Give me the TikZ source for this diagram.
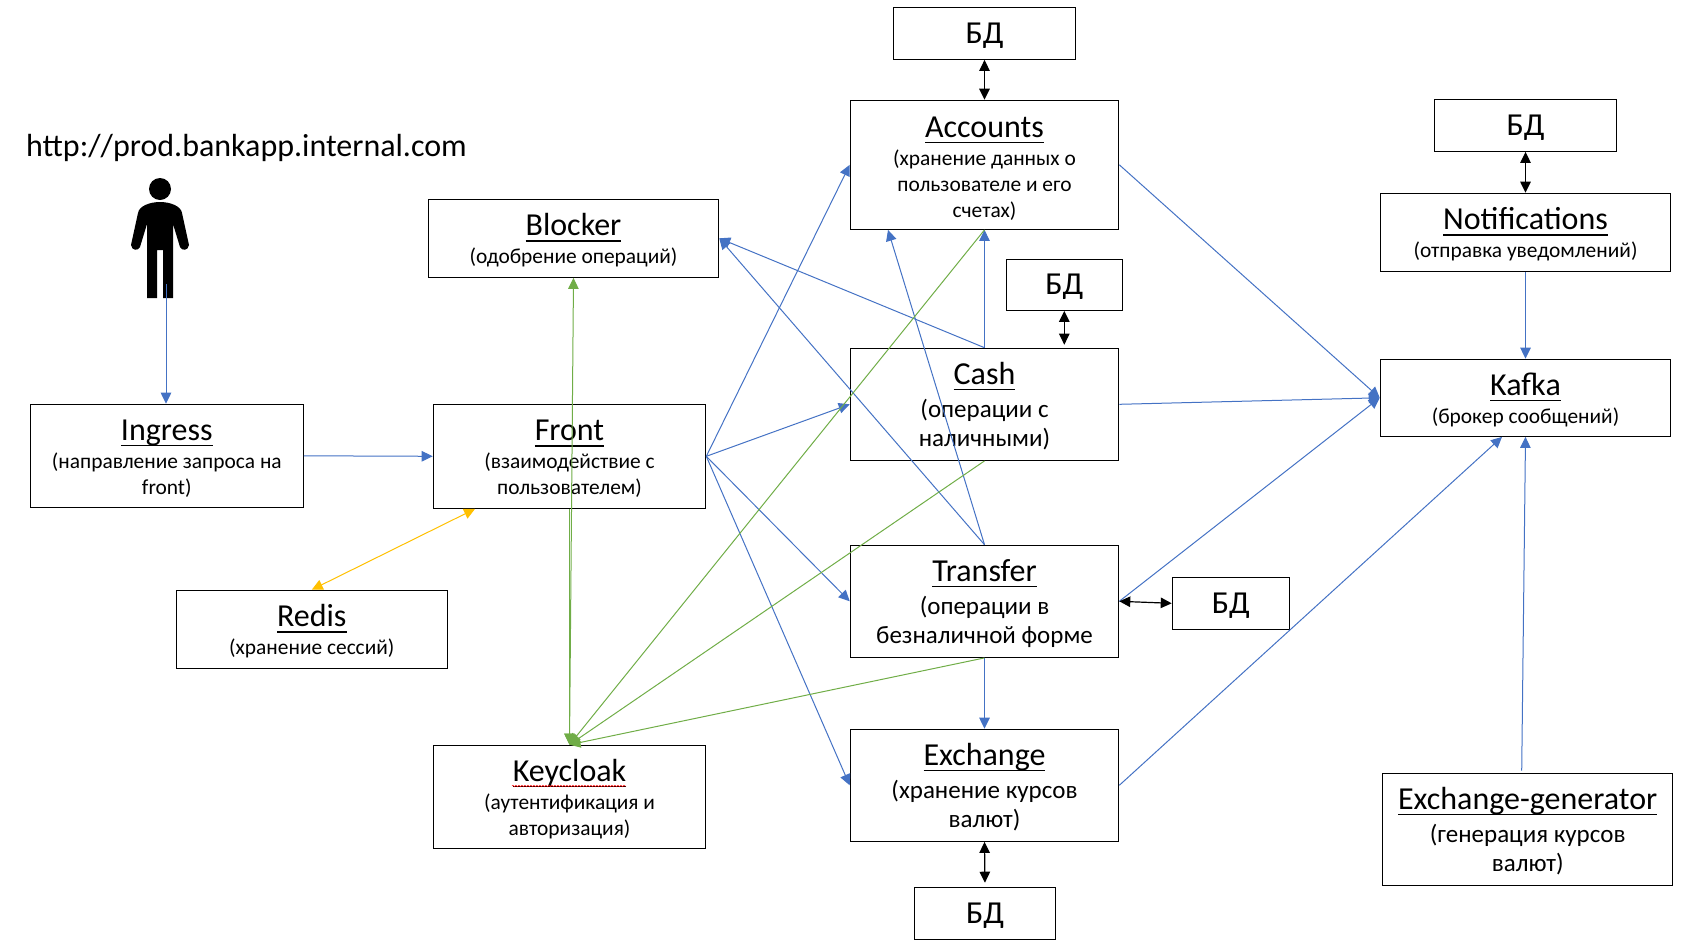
\documentclass[tikz,border=0pt]{standalone}
\usepackage{fontspec}
\setmainfont{Carlito}
\usetikzlibrary{arrows.meta,calc,decorations.pathmorphing}
\definecolor{lblue}{HTML}{4472C4}
\definecolor{lgreen}{HTML}{70AD47}
\definecolor{lorange}{HTML}{FFC000}
\newcommand{\ttl}[1]{{\fontsize{32}{36}\selectfont\setbox0\hbox{#1}\rule{0pt}{28pt}\rlap{\rule[-6pt]{\wd0}{1.7pt}}\box0}}
\newcommand{\fs}{\rule[-6pt]{0pt}{6pt}}
\newcommand{\fsb}{\rule[-5pt]{0pt}{5pt}}
\newcommand{\fsa}{\rule[-2pt]{0pt}{2pt}}
\newcommand{\dbt}{\raisebox{-10pt}[0pt][0pt]{БД}}
\tikzset{
  box/.style={draw=black,fill=white,line width=1.2pt,inner sep=0pt,align=center},
  smallbox/.style={box,font=\fontsize{21.4}{26}\selectfont},
  bigbox/.style={box,font=\fontsize{25}{29}\selectfont},
  dbbox/.style={box,font=\fontsize{32}{36}\selectfont},
  bluelink/.style={line width=1pt,draw=lblue,-{Triangle[length=11pt,width=10.5pt,color=lblue]}},
  greenlink/.style={line width=1pt,draw=lgreen,-{Triangle[length=11pt,width=10.5pt]}},
  greenboth/.style={line width=1pt,draw=lgreen,{Triangle[length=11pt,width=10.5pt]}-{Triangle[length=11pt,width=10.5pt]}},
  orangeboth/.style={line width=1pt,draw=lorange,{Triangle[length=11pt,width=10.5pt]}-{Triangle[length=11pt,width=10.5pt]}},
  blackboth/.style={line width=1.2pt,draw=black,{Triangle[length=11pt,width=10.5pt]}-{Triangle[length=11pt,width=10.5pt]}},
}
\begin{document}
\begin{tikzpicture}[x=1pt,y=-1pt]
\useasboundingbox (0,0) rectangle (1681,948);
% boxes
\node[dbbox,minimum width=182.4pt,minimum height=52pt] (bdacc) at (984.5,33.3) {\dbt};
\node[smallbox,minimum width=268.4pt,minimum height=129pt] (accounts) at (984.5,164.8) {\ttl{Accounts}\\[2pt](хранение данных о\\пользователе и его\\счетах)\fsa};
\node[smallbox,minimum width=290.3pt,minimum height=78pt] (blocker) at (573.5,238.3) {\ttl{Blocker}\\[2pt](одобрение операций)\fsb};
\node[dbbox,minimum width=116pt,minimum height=51pt] (bdcash) at (1064.3,284.8) {\dbt};
\node[bigbox,minimum width=268.4pt,minimum height=112pt] (cash) at (984.5,404.3) {\ttl{Cash}\\[4pt](операции с\\наличными)\fs};
\node[smallbox,minimum width=272.4pt,minimum height=104pt] (front) at (569.5,456.3) {\ttl{Front}\\[2pt](взаимодействие с\\пользователем)\fsb};
\node[smallbox,minimum width=273pt,minimum height=103pt] (ingress) at (166.8,455.8) {\ttl{Ingress}\\[2pt](направление запроса на\\front)\fsb};
\node[smallbox,minimum width=271pt,minimum height=78pt] (redis) at (311.8,629.3) {\ttl{Redis}\\[2pt](хранение сессий)\fsb};
\node[bigbox,minimum width=268.4pt,minimum height=112pt] (transfer) at (984.5,601.3) {\ttl{Transfer}\\[4pt](операции в\\безналичной форме\fs};
\node[dbbox,minimum width=117pt,minimum height=52pt] (bdtransfer) at (1230.8,603.3) {\dbt};
\node[bigbox,minimum width=268.4pt,minimum height=112pt] (exchange) at (984.5,785.3) {\ttl{Exchange}\\[4pt](хранение курсов\\валют)\fs};
\node[dbbox,minimum width=141.4pt,minimum height=52pt] (bdexch) at (985,913.3) {\dbt};
\node[smallbox,minimum width=272.4pt,minimum height=103pt] (keycloak) at (569.5,796.8) {\ttl{Keycloak}\\[2pt](аутентификация и\\авторизация)\fsb};
\node[dbbox,minimum width=182pt,minimum height=52pt] (bdnotif) at (1525.5,125.3) {\dbt};
\node[smallbox,minimum width=290.4pt,minimum height=78pt] (notif) at (1525.5,232.3) {\ttl{Notifications}\\[2pt](отправка уведомлений)\fsb};
\node[smallbox,minimum width=290.4pt,minimum height=77pt] (kafka) at (1525.5,397.8) {\ttl{Kafka}\\[2pt](брокер сообщений)\fsb};
\node[bigbox,minimum width=290pt,minimum height=112pt] (gen) at (1527.7,829.3) {\ttl{Exchange-generator}\\[4pt](генерация курсов\\валют)\fs};
% title
\node[anchor=base west,inner sep=0pt,font=\fontsize{32}{36}\selectfont] (url) at (26,156) {http://prod.bankapp.internal.com};
% person
\fill[black] (160,189) circle (11);
\fill[black] (147,298) -- (147,224) -- (140,247) .. controls (138,251) and (132,251) .. (131,245)
  -- (138,213) .. controls (139,206) and (150,202) .. (160,202) .. controls (170,202) and (181,206) .. (182,213)
  -- (189,245) .. controls (188,251) and (182,251) .. (180,247) -- (173,224) -- (173,298) -- (163,298) -- (163,250) -- (157,250) -- (157,298) -- cycle;
\coordinate (person) at (166,284);
% spell-check underline
\draw[red,line width=0.5pt,decorate,decoration={snake,amplitude=0.7pt,segment length=3pt}] (512,786) -- (626,786);
% connectors
\draw[bluelink] (person) -- (person |- ingress.north);
\draw[bluelink] (ingress.east) -- (front.west);
\draw[orangeboth] (redis.north) -- ($(front.south)+(-94.5,0)$);
\draw[bluelink] (front.east) -- (accounts.west);
\draw[bluelink] (front.east) -- (cash.west);
\draw[bluelink] (front.east) -- (transfer.west);
\draw[bluelink] (front.east) -- (exchange.west);
\draw[bluelink] (cash.north) -- (accounts.south);
\draw[bluelink] (cash.north) -- (blocker.east);
\draw[bluelink] (transfer.north) -- (blocker.east);
\draw[bluelink] (transfer.north) -- ($(accounts.south)+(-96.5,0)$);
\draw[bluelink] (accounts.east) -- (kafka.west);
\draw[bluelink] (cash.east) -- (kafka.west);
\draw[bluelink] (transfer.east) -- (kafka.west);
\draw[bluelink] (exchange.east) -- ($(kafka.south)+(-23.5,0)$);
\draw[bluelink] ($(gen.north)+(-6,-2)$) -- (kafka.south);
\draw[bluelink] (notif.south) -- (kafka.north);
\draw[bluelink] (transfer.south) -- (exchange.north);
\draw[greenboth] (blocker.south) -- (keycloak.north);
\draw[greenlink] (front.south) -- (keycloak.north);
\draw[greenlink] (accounts.south) -- (keycloak.north);
\draw[greenlink] (cash.south) -- (keycloak.north);
\draw[greenlink] (transfer.south) -- (keycloak.north);
\draw[blackboth] (bdacc.south) -- (accounts.north);
\draw[blackboth] (bdnotif.south) -- (notif.north);
\draw[blackboth,shorten >=3pt] (bdcash.south) -- (bdcash.south |- cash.north);
\draw[blackboth] (transfer.east) -- (bdtransfer.west);
\draw[blackboth,shorten >=4pt] (exchange.south) -- (bdexch.north);
\end{tikzpicture}
\end{document}
